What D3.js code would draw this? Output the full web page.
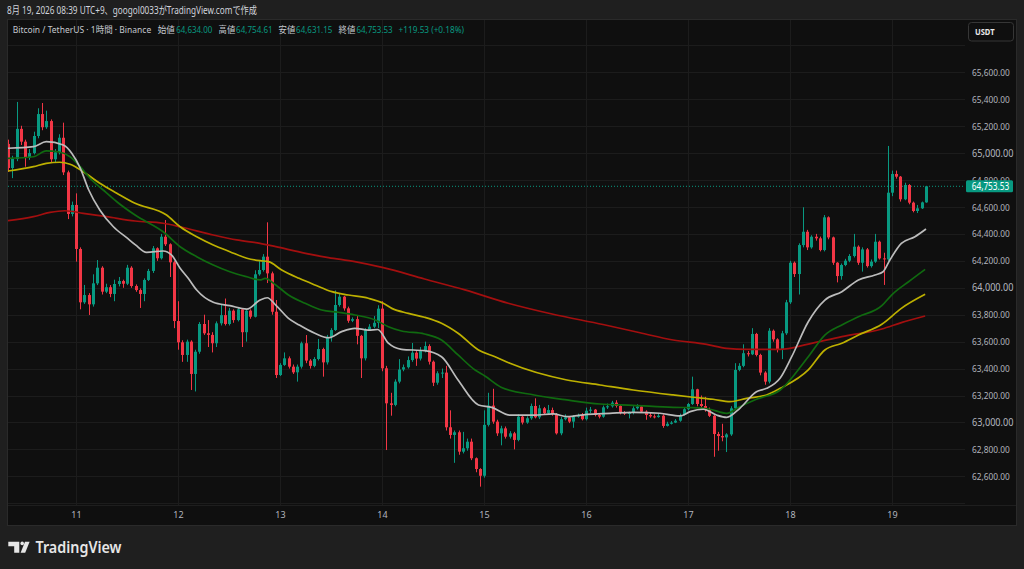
<!DOCTYPE html>
<html>
<head>
<meta charset="utf-8">
<script src="https://cdn.jsdelivr.net/npm/d3@7"></script>
<style>
html, body { margin: 0; padding: 0; background: #1f1f1f; }
svg { display: block; font-family: "Noto Sans", "Noto Sans CJK JP", sans-serif; }
</style>
</head>
<body>
<svg id="chart" width="1024" height="569"></svg>
<script>
// hourly candles, 10 Aug 08:00 .. 19 Aug 08:00 (JST)
const firstOpen = 65068;
const closes = [
  64889, 64956, 65180, 65085, 64966, 65000, 65127, 65290, 65192, 65238,
  64954, 65006, 65114, 64857, 64548, 64615, 64288, 63892, 63946, 63877,
  64033, 64149, 63971, 64004, 63954, 64028, 64050, 64030, 64149, 64013,
  63983, 63954, 64058, 64125, 64293, 64219, 64379, 64323, 64189, 63753,
  63595, 63501, 63600, 63360, 63525, 63731, 63662, 63650, 63588, 63736,
  63797, 63731, 63830, 63760, 63840, 63670, 63830, 63785, 64100, 64132,
  64231, 64107, 63822, 63352, 63427, 63476, 63414, 63372, 63414, 63588,
  63459, 63420, 63471, 63545, 63446, 63636, 63686, 63872, 63934, 63847,
  63755, 63767, 63643, 63476, 63686, 63711, 63740, 63845, 63402, 63142,
  63130, 63303, 63393, 63410, 63463, 63518, 63474, 63530, 63567, 63451,
  63295, 63365, 63370, 62964, 62907, 62927, 62783, 62808, 62857, 62734,
  62654, 62604, 62982, 63125, 63006, 62919, 62956, 62894, 62919, 62870,
  63043, 62999, 63031, 63122, 63038, 63105, 63068, 63092, 63061, 62919,
  63024, 63038, 63006, 63043, 63055, 63024, 63087, 63095, 63055, 63043,
  63112, 63120, 63147, 63122, 63073, 63068, 63070, 63105, 63118, 63080,
  63055, 63045, 63040, 63050, 62974, 62990, 62999, 63013, 63055, 63098,
  63137, 63246, 63137, 63122, 63092, 63049, 62914, 62899, 62889, 62911,
  63105, 63390, 63420, 63514, 63506, 63657, 63501, 63370, 63303, 63681,
  63617, 63545, 63662, 63892, 64186, 64102, 64317, 64416, 64300, 64379,
  64367, 64280, 64523, 64374, 64186, 64087, 64169, 64201, 64236, 64305,
  64186, 64285, 64161, 64194, 64342, 64218, 64211, 64706, 64845, 64825,
  64657, 64763, 64632, 64570, 64590, 64634, 64753.53
];
const highs = [
  65100, 64980, 65380, 65203, 65100, 65030, 65159, 65333, 65372, 65315,
  65250, 65030, 65140, 65226, 64870, 64640, 64701, 64300, 64021, 63960,
  64100, 64206, 64160, 64030, 64020, 64060, 64080, 64060, 64170, 64160,
  64025, 63995, 64070, 64140, 64310, 64300, 64400, 64503, 64330, 64200,
  63900, 63610, 63615, 63610, 63540, 63745, 63800, 63760, 63670, 63750,
  63880, 63920, 63850, 63840, 63850, 63850, 63840, 63840, 64130, 64199,
  64250, 64486, 64120, 63909, 63440, 63520, 63490, 63430, 63430, 63600,
  63649, 63470, 63485, 63620, 63555, 63650, 63700, 63980, 63960, 63940,
  63860, 63780, 63790, 63650, 63700, 63730, 63790, 63870, 63900, 63420,
  63220, 63320, 63470, 63430, 63490, 63590, 63530, 63560, 63600, 63580,
  63460, 63380, 63400, 63420, 63090, 62940, 62940, 62930, 62880, 62880,
  62740, 62660, 63090, 63220, 63250, 63020, 62975, 62970, 62935, 62930,
  63060, 63055, 63045, 63140, 63179, 63130, 63115, 63130, 63110, 63070,
  63040, 63060, 63045, 63055, 63065, 63070, 63110, 63115, 63100, 63065,
  63125, 63140, 63160, 63165, 63130, 63085, 63080, 63120, 63135, 63125,
  63090, 63070, 63060, 63065, 63060, 63005, 63010, 63025, 63065, 63110,
  63145, 63340, 63250, 63200, 63190, 63110, 63055, 62930, 62990, 62920,
  63120, 63440, 63440, 63580, 63530, 63700, 63665, 63510, 63380, 63700,
  63690, 63625, 63680, 63910, 64200, 64195, 64330, 64598, 64430, 64390,
  64400, 64380, 64540, 64530, 64380, 64190, 64180, 64215, 64250, 64400,
  64315, 64300, 64295, 64210, 64400, 64350, 64260, 65053, 64870, 64870,
  64830, 64780, 64770, 64640, 64615, 64640, 64754.61
];
const lows = [
  64860, 64814, 64940, 65060, 64899, 64950, 64990, 65110, 65170, 65180,
  64930, 64930, 64990, 64837, 64510, 64530, 64194, 63840, 63880, 63798,
  63860, 64020, 63950, 63960, 63930, 63900, 64010, 64000, 64020, 64000,
  63970, 63850, 63900, 64050, 64110, 64200, 64210, 64310, 64080, 63700,
  63540, 63450, 63450, 63241, 63230, 63510, 63650, 63560, 63520, 63560,
  63720, 63720, 63720, 63740, 63750, 63560, 63600, 63770, 63780, 64090,
  64120, 64035, 63800, 63330, 63345, 63420, 63400, 63360, 63303, 63400,
  63440, 63400, 63410, 63460, 63340, 63430, 63600, 63680, 63860, 63830,
  63740, 63745, 63580, 63330, 63460, 63680, 63700, 63700, 63380, 62795,
  63050, 63120, 63290, 63380, 63400, 63450, 63420, 63460, 63520, 63430,
  63270, 63280, 63330, 62940, 62880, 62700, 62760, 62770, 62790, 62720,
  62630, 62523, 62590, 62970, 62990, 62900, 62830, 62880, 62880, 62800,
  62860, 62985, 62990, 63020, 63030, 63025, 63055, 63060, 63050, 62910,
  62905, 63015, 62995, 62960, 63035, 63015, 63015, 63070, 63045, 63030,
  63035, 63100, 63110, 63110, 63060, 63055, 63030, 63060, 63095, 63070,
  63020, 63035, 63030, 63035, 62960, 62970, 62985, 62995, 63005, 63050,
  63090, 63130, 63120, 63110, 63080, 63040, 62745, 62790, 62860, 62780,
  62900, 63100, 63380, 63410, 63490, 63500, 63490, 63350, 63280, 63290,
  63600, 63520, 63470, 63650, 63880, 64080, 63950, 64300, 64280, 64290,
  64350, 64270, 64270, 64360, 64170, 64040, 64060, 64160, 64190, 64225,
  64170, 64120, 64150, 64150, 64185, 64210, 64021, 64200, 64680, 64810,
  64640, 64650, 64620, 64560, 64555, 64585, 64631.15
];

// moving averages: [candle index, price]
const maFast = [
  [0, 65036], [6, 65048], [9, 65085], [13, 65060], [15, 64999], [17, 64889], [19, 64726],
  [21.6, 64577], [24.8, 64453], [28, 64370], [30, 64318], [32.6, 64263], [36.5, 64273],
  [38.5, 64243], [40.5, 64145], [42.4, 64070], [44.4, 63983], [48.3, 63892], [52.2, 63867],
  [56.2, 63842], [59.3, 63909], [61, 63926], [63, 63872], [66, 63773], [68.5, 63724],
  [72.2, 63662], [75.4, 63629], [78.5, 63674], [81.6, 63699], [84.8, 63686], [87, 63690],
  [89.5, 63588], [92.6, 63543], [98, 63533], [102, 63488], [105.9, 63315], [110.7, 63130],
  [113.8, 63112], [118.1, 63055], [123.8, 63055], [128.3, 63063], [131.5, 63043],
  [136.2, 63060], [141.6, 63068], [147.1, 63075], [153.4, 63068], [158.1, 63048],
  [160.5, 63080], [163.6, 63098], [166.7, 63055], [169.1, 63038], [172.2, 63105],
  [176.1, 63228], [178.5, 63253], [181.7, 63330], [184.4, 63488], [188.3, 63748],
  [192.2, 63909], [196.2, 63971], [200.1, 64058], [204, 64095], [205.9, 64119],
  [207.5, 64206], [210.2, 64330], [213.4, 64379], [216, 64436]
];
const maMid = [
  [0, 64961], [6, 64973], [9, 65016], [11.8, 65010], [14.6, 64973], [17, 64899], [19.3, 64813],
  [22.4, 64726], [25.6, 64639], [29.9, 64540], [36.5, 64416], [40.5, 64305], [44.4, 64231],
  [48.3, 64169], [52.2, 64119], [56.2, 64082], [59.3, 64058], [60.5, 64070], [63, 64021],
  [66, 63946], [69.9, 63885], [73.8, 63835], [77.7, 63818], [81.6, 63798], [86.4, 63761],
  [89.5, 63711], [92.6, 63679], [98, 63657], [102, 63612], [105.9, 63501], [109.9, 63389],
  [112.2, 63345], [116, 63262], [123.8, 63204], [131.5, 63167], [139.3, 63137],
  [147.1, 63127], [156.5, 63112], [161.2, 63110], [165.2, 63098], [169.1, 63068],
  [172.2, 63117], [176.1, 63172], [181.7, 63241], [188.3, 63488], [192.2, 63649],
  [196.2, 63724], [200.1, 63785], [205.6, 63867], [207.9, 63946], [211.9, 64045],
  [215.8, 64137]
];
const maSlow = [
  [0, 64867], [6, 64899], [9, 64924], [12.2, 64932], [14.6, 64917], [17.7, 64862],
  [21.6, 64776], [25.6, 64702], [29.9, 64627], [37.3, 64540], [40.5, 64453], [44.4, 64379],
  [48.3, 64318], [52.2, 64268], [56.2, 64219], [59.3, 64201], [61.3, 64194], [64.4, 64132],
  [68.5, 64070], [72.2, 64021], [76.2, 63971], [80.1, 63946], [84.8, 63922], [88.3, 63885],
  [90.3, 63847], [94.2, 63810], [98, 63781], [102, 63736], [105.9, 63662], [110.7, 63538],
  [114.6, 63488], [118.1, 63439], [131.5, 63315], [139.3, 63278], [147.1, 63241],
  [156.5, 63204], [161.2, 63187], [165.9, 63172], [169.9, 63154], [173.8, 63179],
  [178.5, 63204], [181.7, 63253], [188.3, 63390], [192.2, 63538], [196.2, 63588],
  [200.1, 63649], [205.6, 63729], [210.2, 63847], [215.8, 63951]
];
const maLong = [
  [0, 64498], [6, 64528], [9.9, 64560], [13.4, 64572], [17.7, 64553], [23.2, 64528],
  [29.9, 64496], [36.5, 64479], [40.5, 64453], [48.3, 64392], [53.8, 64355], [59.3, 64330],
  [63, 64305], [70, 64256], [75.4, 64224], [81.6, 64194], [88.3, 64149], [98, 64065],
  [107.5, 63984], [117.7, 63885], [128, 63805], [140, 63727], [148.7, 63666],
  [156.5, 63612], [164.4, 63580], [169.1, 63550], [173.8, 63543], [181.7, 63543],
  [188.3, 63582], [196.2, 63637], [205.6, 63694], [210.2, 63741], [215.8, 63790]
];

const dayTicks = [16, 40, 64, 88, 112, 136, 160, 184, 208];
const dayLabels = ["11", "12", "13", "14", "15", "16", "17", "18", "19"];
const priceTicks = [62600, 62800, 63000, 63200, 63400, 63600, 63800, 64000,
                    64200, 64400, 64600, 64800, 65000, 65200, 65400, 65600];
const gridPrices = [62400].concat(priceTicks, [65800]);
const lastPrice = 64753.53;

const UP = "#089981", DOWN = "#f23645";

const svg = d3.select("#chart");
const plotL = 8, plotR = 965, plotT = 20, plotB = 505;

const x = d3.scaleLinear().domain([0, 216]).range([8, 926]);
const y = d3.scaleLinear().domain([62600, 65600]).range([476.3, 72.3]);

// header line
svg.append("text")
    .attr("x", 7).attr("y", 13.5)
    .attr("font-size", 10).attr("fill", "#d1d4dc")
    .attr("textLength", 250).attr("lengthAdjust", "spacingAndGlyphs")
    .text("8月 19, 2026 08:39 UTC+9、googol0033がTradingView.comで作成");

// chart panel
svg.append("rect")
    .attr("x", 7.5).attr("y", 19.5).attr("width", 1009).attr("height", 506)
    .attr("fill", "#0f0f0f").attr("stroke", "#2a2a2a");

// grid
svg.append("g").selectAll("line")
    .data(gridPrices)
    .enter().append("line")
    .attr("x1", plotL).attr("x2", plotR)
    .attr("y1", d => Math.round(y(d)) + 0.5).attr("y2", d => Math.round(y(d)) + 0.5)
    .attr("stroke", "#1c1c1c");

svg.append("g").selectAll("line")
    .data(dayTicks)
    .enter().append("line")
    .attr("x1", d => Math.round(x(d)) + 0.5).attr("x2", d => Math.round(x(d)) + 0.5)
    .attr("y1", plotT).attr("y2", plotB)
    .attr("stroke", "#1c1c1c");

// time axis border
svg.append("line")
    .attr("x1", 8).attr("x2", 1016).attr("y1", plotB + 0.5).attr("y2", plotB + 0.5)
    .attr("stroke", "#1e1e1e");

// legend
const legend = [
    {t: "Bitcoin / TetherUS · 1時間 · Binance", x: 12.7, w: 138.5, c: "#c5c8ce"},
    {t: "始値", x: 157.8, w: 17, c: "#c5c8ce"},
    {t: "64,634.00", x: 176.2, w: 36.1, c: UP},
    {t: "高値", x: 218.6, w: 16.7, c: "#c5c8ce"},
    {t: "64,754.61", x: 236.1, w: 36.6, c: UP},
    {t: "安値", x: 278.6, w: 16.7, c: "#c5c8ce"},
    {t: "64,631.15", x: 296.1, w: 36.2, c: UP},
    {t: "終値", x: 338.6, w: 16.9, c: "#c5c8ce"},
    {t: "64,753.53", x: 356.4, w: 36.3, c: UP},
    {t: "+119.53 (+0.18%)", x: 398.6, w: 65.4, c: UP}
];
svg.append("g").selectAll("text")
    .data(legend)
    .enter().append("text")
    .attr("x", d => d.x).attr("y", 33.3)
    .attr("font-size", 9)
    .attr("fill", d => d.c)
    .attr("textLength", d => d.w).attr("lengthAdjust", "spacingAndGlyphs")
    .text(d => d.t);

// plot contents
const plot = svg.append("g");
svg.append("clipPath").attr("id", "plotclip")
    .append("rect").attr("x", plotL).attr("y", plotT).attr("width", plotR - plotL).attr("height", plotB - plotT);
plot.attr("clip-path", "url(#plotclip)");

const candles = closes.map((c, i) => ({
    i: i,
    o: i === 0 ? firstOpen : closes[i - 1],
    h: highs[i],
    l: lows[i],
    c: c
}));

const line = d3.line()
    .x(d => x(d[0]))
    .y(d => y(d[1]))
    .curve(d3.curveMonotoneX);

// last price dotted line
plot.append("line")
    .attr("x1", plotL).attr("x2", plotR)
    .attr("y1", y(lastPrice)).attr("y2", y(lastPrice))
    .attr("stroke", UP).attr("stroke-dasharray", "1,2").attr("stroke-width", 1);

const cg = plot.append("g");
cg.selectAll("line")
    .data(candles)
    .enter().append("line")
    .attr("x1", d => Math.round(x(d.i)) + 0.5)
    .attr("x2", d => Math.round(x(d.i)) + 0.5)
    .attr("y1", d => y(d.h))
    .attr("y2", d => y(d.l))
    .attr("stroke", d => d.c >= d.o ? UP : DOWN);

cg.selectAll("rect")
    .data(candles)
    .enter().append("rect")
    .attr("x", d => Math.round(x(d.i)) - 1)
    .attr("width", 3)
    .attr("y", d => y(Math.max(d.o, d.c)))
    .attr("height", d => Math.max(1, Math.abs(y(d.o) - y(d.c))))
    .attr("fill", d => d.c >= d.o ? UP : DOWN);

const maStyles = [
    {data: maLong, color: "#a30f0f"},
    {data: maSlow, color: "#bdb000"},
    {data: maMid, color: "#106a10"},
    {data: maFast, color: "#bcbcbc"}
];
plot.append("g").selectAll("path")
    .data(maStyles)
    .enter().append("path")
    .attr("d", d => line(d.data))
    .attr("fill", "none")
    .attr("stroke", d => d.color)
    .attr("stroke-width", 1.7);

// price axis
const yAxis = d3.axisRight(y)
    .tickValues(priceTicks)
    .tickSize(0)
    .tickPadding(7)
    .tickFormat(d3.format(",.2f"));
const ya = svg.append("g")
    .attr("transform", `translate(${plotR},0)`)
    .call(yAxis);
ya.select(".domain").remove();
ya.selectAll("text")
    .attr("fill", "#b2b5be")
    .attr("font-family", "Noto Sans, sans-serif")
    .attr("font-size", d => d % 1000 === 0 ? 10 : 9.5)
    .attr("textLength", d => d % 1000 === 0 ? 41.5 : 37.7)
    .attr("lengthAdjust", "spacingAndGlyphs");

// time axis
const xAxis = d3.axisBottom(x)
    .tickValues(dayTicks)
    .tickSize(0)
    .tickPadding(7)
    .tickFormat((d, i) => dayLabels[i]);
const xa = svg.append("g")
    .attr("transform", `translate(0,${plotB})`)
    .call(xAxis);
xa.select(".domain").remove();
xa.selectAll("text")
    .attr("fill", "#b2b5be")
    .attr("font-family", "Noto Sans, sans-serif")
    .attr("font-size", 9);

// last price label
const lp = svg.append("g");
lp.append("rect")
    .attr("x", 966).attr("y", y(lastPrice) - 6).attr("width", 47).attr("height", 12)
    .attr("rx", 1.5)
    .attr("fill", UP);
lp.append("text")
    .attr("x", 971.7).attr("y", y(lastPrice) + 3.6)
    .attr("font-size", 10).attr("fill", "#ffffff")
    .attr("textLength", 37.6).attr("lengthAdjust", "spacingAndGlyphs")
    .text(d3.format(",.2f")(lastPrice));

// currency button
svg.append("rect")
    .attr("x", 968.5).attr("y", 22.5).attr("width", 45).attr("height", 18.5)
    .attr("rx", 3)
    .attr("fill", "#0f0f0f").attr("stroke", "#363636");
svg.append("text")
    .attr("x", 975).attr("y", 35.2)
    .attr("font-size", 9).attr("font-weight", "bold").attr("fill", "#e8e8e8")
    .attr("textLength", 19.5).attr("lengthAdjust", "spacingAndGlyphs")
    .text("USDT");

// TradingView logo
const logo = svg.append("g").attr("fill", "#e6e6e6");
logo.append("path").attr("d", "M8.3,541.7 H19.3 V552.8 H14.2 V546.3 H8.3 Z");
logo.append("circle").attr("cx", 22.2).attr("cy", 543.4).attr("r", 1.8);
logo.append("path").attr("d", "M25,541.7 H29.6 L25.2,552.8 H20.6 Z");
svg.append("text")
    .attr("x", 35.5).attr("y", 553.3)
    .attr("font-size", 16.5).attr("font-weight", 600).attr("fill", "#e6e6e6")
    .attr("textLength", 86).attr("lengthAdjust", "spacingAndGlyphs")
    .text("TradingView");
</script>
</body>
</html>
